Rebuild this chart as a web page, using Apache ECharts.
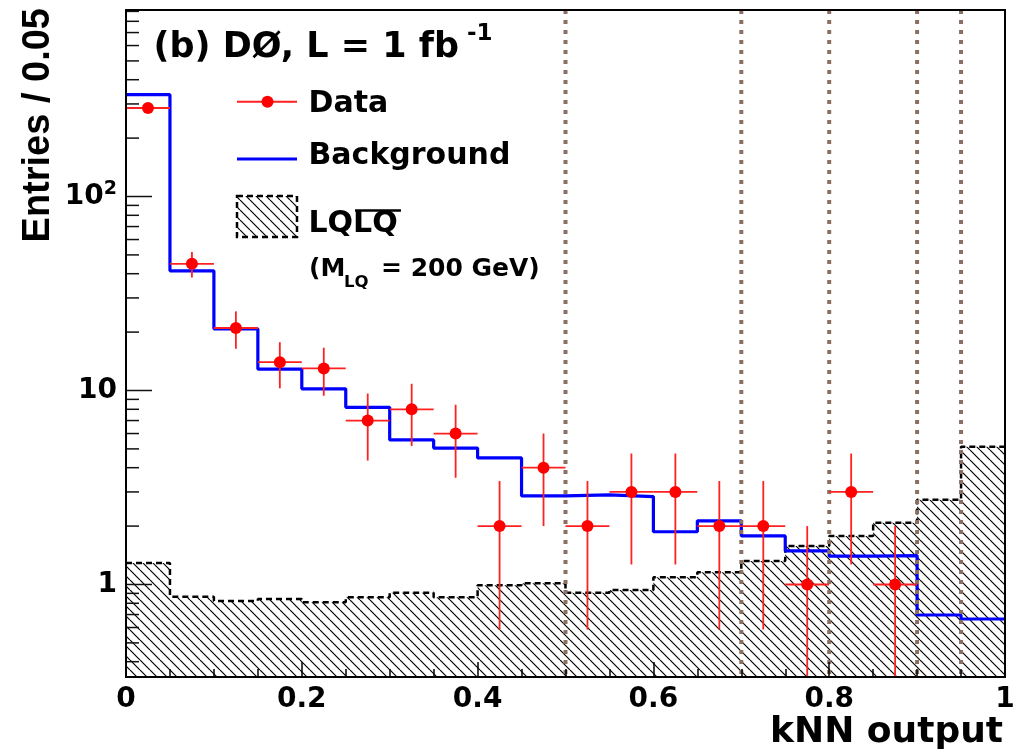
<!DOCTYPE html>
<html>
<head>
<meta charset="utf-8">
<script src="https://cdn.jsdelivr.net/npm/echarts@6/dist/echarts.min.js"></script>
<style>
  html, body { margin: 0; padding: 0; background: #ffffff; }
  #chart { width: 1022px; height: 754px; }
</style>
</head>
<body>
<div id="chart"></div>
<script>
// kNN output distribution: lower bin edges (bin width 0.05)
const binLow = [0.00, 0.05, 0.10, 0.15, 0.20, 0.25, 0.30, 0.35, 0.40, 0.45,
                0.50, 0.55, 0.60, 0.65, 0.70, 0.75, 0.80, 0.85, 0.90, 0.95];
const binWidth = 0.05;

// Observed event counts per bin (0 = empty bin)
const dataCounts = [286, 45, 21, 14, 13, 7, 8, 6, 2, 4,
                    2, 3, 3, 2, 2, 1, 3, 1, 0, 0];

// Expected background per bin
const background = [335, 41.4, 20.8, 12.9, 10.2, 8.19, 5.56, 5.05, 4.49, 2.86,
                    2.90, 2.84, 1.87, 2.13, 1.78, 1.49, 1.40, 1.41, 0.696, 0.664];

// LQ pair signal, M_LQ = 200 GeV
const lqSignal = [1.29, 0.865, 0.822, 0.842, 0.81, 0.859, 0.907, 0.859, 0.99, 1.014,
                  0.907, 0.937, 1.089, 1.156, 1.32, 1.58, 1.78, 2.08, 2.73, 5.13];

// Selection cut positions (dotted vertical lines)
const cutValues = [0.5, 0.7, 0.8, 0.9, 0.95];

// Log axis range and tick positions
const yMin = 0.3335;
const yMax = 915;
const yMajorTicks = [1, 10, 100];
const yMinorTicks = [0.4, 0.5, 0.6, 0.7, 0.8, 0.9,
                     2, 3, 4, 5, 6, 7, 8, 9,
                     20, 30, 40, 50, 60, 70, 80, 90,
                     200, 300, 400, 500, 600, 700, 800, 900];

const FONT = '"DejaVu Sans", "Liberation Sans", sans-serif';

// Diagonal hatch tile for the signal histogram
function makeHatch(size) {
  const c = document.createElement('canvas');
  c.width = size; c.height = size;
  const ctx = c.getContext('2d');
  ctx.strokeStyle = '#000';
  ctx.lineWidth = 1.2;
  ctx.beginPath();
  for (const k of [-size, 0, size]) {
    ctx.moveTo(k, 0);
    ctx.lineTo(k + size, size);
  }
  ctx.stroke();
  return c;
}
const hatch = makeHatch(10);

// Histogram outline points: left edges plus closing right edge
function stepPoints(vals) {
  const pts = binLow.map((x, i) => [x, vals[i]]);
  pts.push([binLow[binLow.length - 1] + binWidth, vals[vals.length - 1]]);
  return pts;
}

const dataPoints = [];
binLow.forEach((x, i) => {
  if (dataCounts[i] > 0) dataPoints.push([x + binWidth / 2, dataCounts[i]]);
});

const tickData = yMajorTicks.map(v => [0, v, 1]).concat(yMinorTicks.map(v => [0, v, 0]));

const chart = echarts.init(document.getElementById('chart'), null, { renderer: 'canvas' });

const option = {
  animation: false,
  backgroundColor: '#ffffff',
  grid: {
    left: 126, top: 10, width: 879, height: 667,
    show: true, borderColor: '#000', borderWidth: 2, z: 10,
    containLabel: false
  },
  xAxis: {
    type: 'value', min: 0, max: 1, interval: 0.2, z: 10,
    axisLine: { show: true, lineStyle: { color: '#000', width: 2 } },
    axisTick: { show: true, inside: true, length: 15, lineStyle: { color: '#000', width: 1.5 } },
    minorTick: { show: true, splitNumber: 4, length: 8, lineStyle: { color: '#000', width: 1.5 } },
    splitLine: { show: false },
    minorSplitLine: { show: false },
    axisLabel: {
      fontFamily: FONT, fontWeight: 'bold', fontSize: 28, color: '#000', margin: 9,
      formatter: v => (v === 0 ? '0' : v === 1 ? '1' : v.toFixed(1))
    }
  },
  yAxis: {
    type: 'log', logBase: 10, min: yMin, max: yMax, z: 10,
    axisLine: { show: true, lineStyle: { color: '#000', width: 2 } },
    axisTick: { show: false },
    minorTick: { show: false },
    splitLine: { show: false },
    axisLabel: {
      fontFamily: FONT, fontWeight: 'bold', fontSize: 28, color: '#000', margin: 9,
      showMinLabel: false, showMaxLabel: false,
      formatter: function (v) {
        const lg = Math.log10(v);
        const r = Math.round(lg);
        if (Math.abs(lg - r) > 1e-6) return '';
        if (r === 0) return '1';
        if (r === 1) return '10';
        return '{b|10}{s|' + r + '}';
      },
      rich: {
        b: { fontFamily: FONT, fontWeight: 'bold', fontSize: 28, color: '#000' },
        s: { fontFamily: FONT, fontWeight: 'bold', fontSize: 19, color: '#000', padding: [0, 0, 14, 0] }
      }
    }
  },
  series: [
    {
      name: 'LQLQ',
      type: 'line', step: 'end', symbol: 'none', z: 1,
      data: stepPoints(lqSignal),
      lineStyle: { color: '#000', width: 2.5, type: [6, 4] },
      areaStyle: { color: { image: hatch, repeat: 'repeat' }, origin: 'start', opacity: 1 },
      silent: true
    },
    {
      name: 'Background',
      type: 'line', step: 'end', symbol: 'none', z: 2,
      data: stepPoints(background),
      lineStyle: { color: '#0000ff', width: 3.2 },
      silent: true
    },
    {
      name: 'cuts',
      type: 'custom', z: 3, silent: true,
      data: cutValues.map(v => [v, yMin]),
      encode: { x: 0, y: 1 },
      renderItem: function (params, api) {
        const x = api.value(0);
        const top = api.coord([x, yMax]);
        const bot = api.coord([x, yMin]);
        return {
          type: 'line',
          shape: { x1: top[0], y1: top[1], x2: bot[0], y2: bot[1] },
          style: { stroke: '#8a6f62', lineWidth: 4, lineDash: [4, 6] }
        };
      }
    },
    {
      name: 'errors',
      type: 'custom', z: 4, silent: true,
      data: dataPoints,
      encode: { x: 0, y: 1 },
      renderItem: function (params, api) {
        const xc = api.value(0);
        const n = api.value(1);
        const e = Math.sqrt(n);
        const l = api.coord([xc - binWidth / 2, n]);
        const r = api.coord([xc + binWidth / 2, n]);
        const up = api.coord([xc, n + e]);
        const lowVal = n - e > yMin ? n - e : yMin;
        const lo = api.coord([xc, lowVal]);
        const st = { stroke: '#ff2020', lineWidth: 1.8 };
        return {
          type: 'group',
          children: [
            { type: 'line', shape: { x1: l[0], y1: l[1], x2: r[0], y2: r[1] }, style: st },
            { type: 'line', shape: { x1: up[0], y1: up[1], x2: lo[0], y2: lo[1] }, style: st }
          ]
        };
      }
    },
    {
      name: 'Data',
      type: 'scatter', z: 5, silent: true,
      data: dataPoints,
      symbol: 'circle', symbolSize: 12,
      itemStyle: { color: '#ff0000', opacity: 1 }
    },
    {
      name: 'yticks',
      type: 'custom', z: 6, silent: true, clip: false,
      data: tickData,
      encode: { x: 0, y: 1 },
      renderItem: function (params, api) {
        const p = api.coord([0, api.value(1)]);
        const len = api.value(2) ? 26 : 13;
        return {
          type: 'line',
          shape: { x1: p[0], y1: p[1], x2: p[0] + len, y2: p[1] },
          style: { stroke: '#111', lineWidth: 1.5 }
        };
      }
    }
  ],
  graphic: [
    // header
    { type: 'text', x: 153.5, y: 48, z: 20,
      style: { text: '(b) DØ, L = 1 fb', fontFamily: FONT, fontWeight: 'bold', fontSize: 35, fill: '#000', verticalAlign: 'middle' } },
    { type: 'text', x: 467, y: 34, z: 20,
      style: { text: '-1', fontFamily: FONT, fontWeight: 'bold', fontSize: 23, fill: '#000', verticalAlign: 'middle' } },

    // legend: data
    { type: 'line', z: 20, shape: { x1: 237, y1: 101.7, x2: 297, y2: 101.7 }, style: { stroke: '#ff2020', lineWidth: 2 } },
    { type: 'circle', z: 21, shape: { cx: 267.5, cy: 101.7, r: 6 }, style: { fill: '#ff0000' } },
    { type: 'text', x: 308.5, y: 104.6, z: 20,
      style: { text: 'Data', fontFamily: FONT, fontWeight: 'bold', fontSize: 30, fill: '#000', verticalAlign: 'middle' } },

    // legend: background
    { type: 'line', z: 20, shape: { x1: 237, y1: 159, x2: 297, y2: 159 }, style: { stroke: '#0000ff', lineWidth: 3.2 } },
    { type: 'text', x: 308.5, y: 156.3, z: 20,
      style: { text: 'Background', fontFamily: FONT, fontWeight: 'bold', fontSize: 30, fill: '#000', verticalAlign: 'middle' } },

    // legend: signal
    { type: 'rect', z: 20, shape: { x: 237, y: 196, width: 60, height: 41 },
      style: { fill: { image: hatch, repeat: 'repeat' }, stroke: '#000', lineWidth: 2.5, lineDash: [6, 4] } },
    { type: 'text', x: 308.5, y: 224.6, z: 20,
      style: { text: 'LQLQ', fontFamily: FONT, fontWeight: 'bold', fontSize: 30, fill: '#000', verticalAlign: 'middle' } },
    { type: 'line', z: 20, shape: { x1: 355, y1: 210.5, x2: 401, y2: 210.5 }, style: { stroke: '#000', lineWidth: 2.5 } },
    { type: 'text', x: 309, y: 269, z: 20,
      style: { text: '(M', fontFamily: FONT, fontWeight: 'bold', fontSize: 25, fill: '#000', verticalAlign: 'middle' } },
    { type: 'text', x: 344, y: 282.3, z: 20,
      style: { text: 'LQ', fontFamily: FONT, fontWeight: 'bold', fontSize: 16.5, fill: '#000', verticalAlign: 'middle' } },
    { type: 'text', x: 381, y: 269, z: 20,
      style: { text: '= 200 GeV)', fontFamily: FONT, fontWeight: 'bold', fontSize: 25, fill: '#000', verticalAlign: 'middle' } },

    // axis titles
    { type: 'text', x: 38.8, y: 8, rotation: Math.PI / 2, z: 20,
      style: { text: 'Entries / 0.05', fontFamily: '"Liberation Sans", Arial, sans-serif', fontWeight: 'bold', fontSize: 38, fill: '#000', align: 'right', verticalAlign: 'middle' } },
    { type: 'text', x: 1003, y: 732.5, z: 20,
      style: { text: 'kNN output', fontFamily: FONT, fontWeight: 'bold', fontSize: 36, fill: '#000', align: 'right', verticalAlign: 'middle' } }
  ]
};

chart.setOption(option);
</script>
</body>
</html>
